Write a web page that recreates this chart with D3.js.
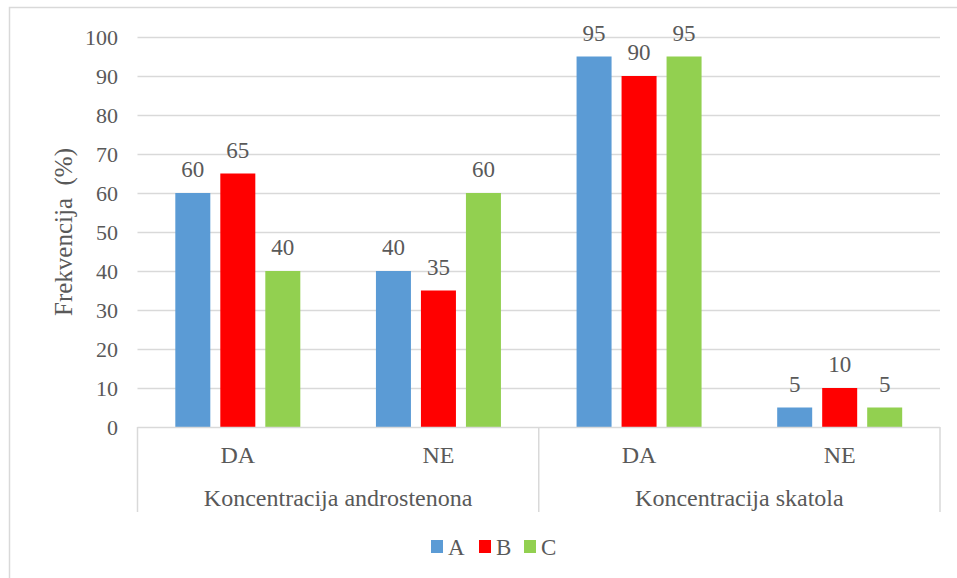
<!DOCTYPE html>
<html>
<head>
<meta charset="utf-8">
<script src="https://cdn.jsdelivr.net/npm/d3@7"></script>
<style>
  html, body { margin: 0; padding: 0; background: #fff; }
  svg { display: block; }
  svg text { font-family: 'Liberation Serif', 'DejaVu Serif', 'Times New Roman', Times, serif; fill: #595959; }
</style>
</head>
<body>
<svg id="chart" width="957" height="578"></svg>
<script>
const groups = ["Koncentracija androstenona", "Koncentracija skatola"];
const categories = ["DA", "NE", "DA", "NE"];
const categoryGroup = [0, 0, 1, 1];
const seriesNames = ["A", "B", "C"];
const seriesColors = ["#5b9bd5", "#ff0000", "#92d050"];
const valuesA = [60, 40, 95, 5];
const valuesB = [65, 35, 90, 10];
const valuesC = [40, 60, 95, 5];
const yTicks = [0, 10, 20, 30, 40, 50, 60, 70, 80, 90, 100];
const yTitle = "Frekvencija  (%)";

(function () {
const FONT = "'Liberation Serif', 'DejaVu Serif', serif";
const series = [valuesA, valuesB, valuesC];
const svg = d3.select("#chart").attr("font-family", FONT);

// outer chart border (left/top visible)
svg.append("rect").attr("x", 9.5).attr("y", 7.5).attr("width", 1000).attr("height", 1000)
  .attr("fill", "none").attr("stroke", "#d9d9d9").attr("stroke-width", 1.5);

const pLeft = 137.5, pRight = 940, pTop = 37, pBottom = 427;
const y = d3.scaleLinear().domain([0, 100]).range([pBottom, pTop]);
const x0 = d3.scaleBand().domain(d3.range(categories.length)).range([pLeft, pRight]).padding(0);
const x1 = d3.scaleBand().domain(d3.range(seriesNames.length)).range([0, 125]).paddingInner(10/45);

// gridlines
svg.append("g").selectAll("line").data(yTicks.filter(d => d > 0)).join("line")
  .attr("x1", pLeft).attr("x2", pRight)
  .attr("y1", d => Math.round(y(d)) + 0.5).attr("y2", d => Math.round(y(d)) + 0.5)
  .attr("stroke", "#d9d9d9").attr("stroke-width", 1.5);

// y tick labels
svg.append("g").selectAll("text").data(yTicks).join("text")
  .attr("x", 118).attr("y", d => y(d) + 8)
  .attr("text-anchor", "end").attr("font-size", 22).text(d => d);

// y title
svg.append("text")
  .attr("transform", `translate(72, ${(pTop + pBottom) / 2}) rotate(-90)`)
  .attr("text-anchor", "middle").attr("font-size", 25)
  .style("white-space", "pre").text(yTitle);

// bars
const bw = x1.bandwidth();
series.forEach((vals, si) => {
  const g = svg.append("g");
  g.selectAll("rect").data(vals).join("rect")
    .attr("x", (d, i) => x0(i) + x0.bandwidth() / 2 - 62.5 + x1(si))
    .attr("y", d => y(d)).attr("width", bw)
    .attr("height", d => y(0) - y(d))
    .attr("fill", seriesColors[si]);
  g.selectAll("text").data(vals).join("text")
    .attr("x", (d, i) => x0(i) + x0.bandwidth() / 2 - 62.5 + x1(si) + bw / 2)
    .attr("y", d => y(d) - 16)
    .attr("text-anchor", "middle").attr("font-size", 23).text(d => d);
});

// category axis line and separators
svg.append("line").attr("x1", pLeft).attr("x2", pRight).attr("y1", pBottom + 0.5).attr("y2", pBottom + 0.5)
  .attr("stroke", "#d9d9d9").attr("stroke-width", 1.5);
const sepX = [pLeft, x0(2), pRight];
svg.append("g").selectAll("line").data(sepX).join("line")
  .attr("x1", d => d).attr("x2", d => d).attr("y1", pBottom).attr("y2", 512)
  .attr("stroke", "#d9d9d9").attr("stroke-width", 1.5);

// category labels
svg.append("g").selectAll("text").data(categories).join("text")
  .attr("x", (d, i) => x0(i) + x0.bandwidth() / 2).attr("y", 463)
  .attr("text-anchor", "middle").attr("font-size", 24).text(d => d);

// group labels
svg.append("g").selectAll("text").data(groups).join("text")
  .attr("x", (d, gi) => {
    const idx = categoryGroup.map((g, i) => g === gi ? i : -1).filter(i => i >= 0);
    return (x0(idx[0]) + x0(idx[idx.length - 1]) + x0.bandwidth()) / 2;
  })
  .attr("y", 506).attr("text-anchor", "middle").attr("font-size", 24).text(d => d);

// legend
const legendX = [431, 479, 524];
const lg = svg.append("g");
seriesNames.forEach((n, i) => {
  lg.append("rect").attr("x", legendX[i]).attr("y", 540).attr("width", 12).attr("height", 13)
    .attr("fill", seriesColors[i]);
  lg.append("text").attr("x", legendX[i] + 17).attr("y", 555).attr("font-size", 23).text(n);
});
})();
</script>
</body>
</html>
